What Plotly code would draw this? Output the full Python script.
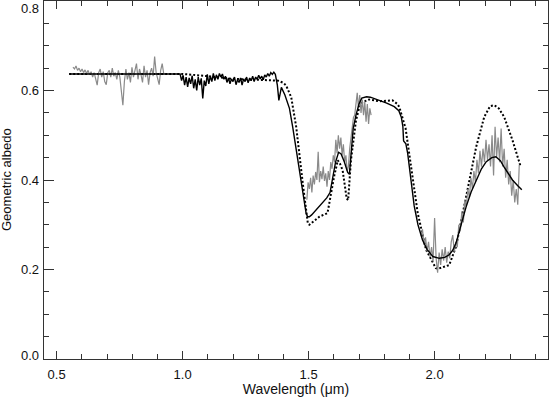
import plotly.graph_objects as go

# ---------------- data ----------------
# Observed spectrum (gray), three wavelength segments
obs1_start, obs1_step = 0.565, 0.006
obs1_albedo = [0.652, 0.648, 0.655, 0.645, 0.650, 0.642, 0.648, 0.640, 0.646, 0.638,
               0.645, 0.635, 0.642, 0.630, 0.640, 0.625, 0.612, 0.640, 0.648, 0.630,
               0.642, 0.620, 0.613, 0.640, 0.645, 0.630, 0.650, 0.632, 0.640, 0.625,
               0.645, 0.630, 0.595, 0.567, 0.620, 0.648, 0.625, 0.640, 0.618, 0.652,
               0.630, 0.645, 0.660, 0.625, 0.648, 0.635, 0.618, 0.655, 0.630, 0.645,
               0.613, 0.640, 0.650, 0.632, 0.676, 0.640, 0.625, 0.613, 0.645, 0.660,
               0.638]

obs2_start, obs2_step = 1.493, 0.005
obs2_albedo = [0.356, 0.395, 0.380, 0.405, 0.372, 0.410, 0.390, 0.418, 0.400, 0.463,
               0.395, 0.420, 0.402, 0.430, 0.398, 0.415, 0.385, 0.420, 0.400, 0.440,
               0.425, 0.455, 0.440, 0.490, 0.460, 0.500, 0.470, 0.495, 0.455, 0.480,
               0.440, 0.455, 0.420, 0.430, 0.470, 0.495, 0.515, 0.540, 0.545, 0.565,
               0.595, 0.560, 0.590, 0.550, 0.580, 0.545, 0.575, 0.530, 0.570, 0.525,
               0.560, 0.545]

obs3_start, obs3_step = 1.946, 0.006
obs3_albedo = [0.275, 0.290, 0.255, 0.272, 0.240, 0.262, 0.228, 0.250, 0.218, 0.315,
               0.225, 0.193, 0.238, 0.210, 0.245, 0.220, 0.250, 0.215, 0.240, 0.225,
               0.262, 0.277, 0.240, 0.262, 0.250, 0.300, 0.285, 0.330, 0.305, 0.355,
               0.340, 0.380, 0.360, 0.405, 0.380, 0.420, 0.395, 0.445, 0.415, 0.465,
               0.430, 0.470, 0.440, 0.490, 0.445, 0.480, 0.430, 0.500, 0.410, 0.519,
               0.450, 0.495, 0.440, 0.515, 0.430, 0.470, 0.405, 0.445, 0.390, 0.420,
               0.365, 0.400, 0.350, 0.380, 0.345, 0.434]

# High-resolution part of the solid model (black, jagged)
hires_start, hires_step = 0.990, 0.006
hires_albedo = [0.637, 0.622, 0.634, 0.612, 0.630, 0.608, 0.628, 0.615, 0.633, 0.605,
                0.625, 0.600, 0.630, 0.612, 0.627, 0.582, 0.622, 0.610, 0.636, 0.615,
                0.632, 0.620, 0.638, 0.622, 0.635, 0.625, 0.638, 0.630, 0.637, 0.625,
                0.632, 0.618, 0.628, 0.615, 0.626, 0.620, 0.630, 0.613, 0.624, 0.618,
                0.628, 0.612, 0.626, 0.620, 0.630, 0.617, 0.628, 0.622, 0.632, 0.620,
                0.630, 0.625, 0.634, 0.626, 0.632, 0.624, 0.635, 0.630, 0.638, 0.632,
                0.640, 0.636, 0.641, 0.636]

# Solid model (smooth parts)
solid_wl_a = [0.550, 0.990]
solid_alb_a = [0.637, 0.637]
solid_wl_b = [1.376, 1.382, 1.392, 1.406, 1.424, 1.437, 1.451, 1.464, 1.477, 1.490,
              1.496, 1.503, 1.512, 1.527, 1.552, 1.572, 1.585, 1.597, 1.607, 1.619,
              1.629, 1.642, 1.655, 1.662, 1.669, 1.677, 1.688, 1.700, 1.711, 1.730,
              1.745, 1.770, 1.810, 1.840, 1.858, 1.868, 1.874, 1.877, 1.886, 1.893,
              1.900, 1.909, 1.919, 1.934, 1.952, 1.970, 1.993, 2.019, 2.040, 2.058,
              2.072, 2.085, 2.105, 2.125, 2.145, 2.165, 2.186, 2.205, 2.227, 2.243,
              2.261, 2.276, 2.294, 2.309, 2.330, 2.346]
solid_alb_b = [0.612, 0.578, 0.607, 0.590, 0.560, 0.518, 0.470, 0.422, 0.375, 0.326,
               0.318, 0.318, 0.322, 0.331, 0.347, 0.360, 0.372, 0.410, 0.440, 0.462,
               0.458, 0.440, 0.417, 0.413, 0.460, 0.515, 0.545, 0.570, 0.583, 0.586,
               0.585, 0.580, 0.572, 0.564, 0.555, 0.540, 0.520, 0.487, 0.481, 0.460,
               0.429, 0.390, 0.342, 0.300, 0.266, 0.245, 0.229, 0.225, 0.227, 0.233,
               0.243, 0.259, 0.300, 0.340, 0.373, 0.400, 0.425, 0.441, 0.450, 0.452,
               0.443, 0.429, 0.413, 0.400, 0.387, 0.378]

# Dotted model
dot_wl = [0.550, 1.000, 1.100, 1.200, 1.300, 1.379, 1.400, 1.411, 1.431, 1.451,
          1.477, 1.497, 1.503, 1.520, 1.543, 1.575, 1.589, 1.602, 1.616, 1.624,
          1.635, 1.651, 1.657, 1.668, 1.688, 1.700, 1.714, 1.740, 1.780, 1.810,
          1.833, 1.852, 1.860, 1.885, 1.907, 1.933, 1.966, 2.005, 2.016, 2.058,
          2.085, 2.111, 2.137, 2.165, 2.197, 2.220, 2.237, 2.255, 2.276, 2.309,
          2.342]
dot_alb = [0.637, 0.637, 0.632, 0.626, 0.624, 0.622, 0.617, 0.611, 0.585, 0.518,
           0.392, 0.303, 0.300, 0.308, 0.318, 0.326, 0.370, 0.410, 0.444, 0.437,
           0.422, 0.359, 0.355, 0.444, 0.533, 0.560, 0.574, 0.580, 0.576, 0.577,
           0.578, 0.570, 0.563, 0.515, 0.429, 0.326, 0.244, 0.203, 0.202, 0.210,
           0.251, 0.326, 0.400, 0.474, 0.541, 0.565, 0.567, 0.560, 0.541, 0.489,
           0.429]

x_tick_vals = [0.5, 1.0, 1.5, 2.0]
x_tick_text = ["0.5", "1.0", "1.5", "2.0"]
y_tick_vals = [0.0, 0.2, 0.4, 0.6, 0.8]
y_tick_text = ["0.0", "0.2", "0.4", "0.6", "0.8"]


def grid(start, step, n):
    return [round(start + step * i, 4) for i in range(n)]


obs_x = (grid(obs1_start, obs1_step, len(obs1_albedo)) + [None]
         + grid(obs2_start, obs2_step, len(obs2_albedo)) + [None]
         + grid(obs3_start, obs3_step, len(obs3_albedo)))
obs_y = obs1_albedo + [None] + obs2_albedo + [None] + obs3_albedo

solid_x = solid_wl_a + grid(hires_start, hires_step, len(hires_albedo)) + solid_wl_b
solid_y = solid_alb_a + hires_albedo + solid_alb_b

fig = go.Figure()
fig.add_trace(go.Scatter(x=dot_wl, y=dot_alb, mode="lines",
                         line=dict(color="black", width=2, dash="2px,2px"),
                         hoverinfo="skip"))
fig.add_trace(go.Scatter(x=obs_x, y=obs_y, mode="lines", connectgaps=False,
                         line=dict(color="#8a8a8a", width=1.2), hoverinfo="skip"))
fig.add_trace(go.Scatter(x=solid_x, y=solid_y, mode="lines",
                         line=dict(color="black", width=1.4), hoverinfo="skip"))

# y tick labels drawn as annotations (end labels nudged inside the frame as in the source)
label_shift = {0.0: 3.5, 0.8: -7.5}
for v, t in zip(y_tick_vals, y_tick_text):
    fig.add_annotation(x=0, xref="paper", y=v, yref="y", text=t, showarrow=False,
                       xanchor="right", yanchor="middle", xshift=-4,
                       yshift=label_shift.get(v, 0), borderpad=0,
                       font=dict(size=13, color="#111111",
                                 family="Liberation Sans, Arial, sans-serif"))

axis_common = dict(showline=True, linecolor="#333333", linewidth=1, mirror="allticks",
                   ticks="inside", tickcolor="#333333", showgrid=False, zeroline=False,
                   tickfont=dict(size=13, color="#111111"))

fig.update_layout(
    width=549, height=397,
    margin=dict(l=44, r=1, t=1, b=38),
    paper_bgcolor="white", plot_bgcolor="white",
    showlegend=False,
    font=dict(family="Liberation Sans, Arial, sans-serif", color="#111111"),
    xaxis=dict(range=[0.45, 2.45], tickmode="array", tickvals=x_tick_vals,
               ticktext=x_tick_text, ticklen=8, ticklabelstandoff=3,
               minor=dict(dtick=0.1, tick0=0.5, ticks="inside", ticklen=5,
                          tickcolor="#333333", showgrid=False),
               title=dict(text="Wavelength (μm)", font=dict(size=14), standoff=3),
               **axis_common),
    yaxis=dict(range=[0.0, 0.8], tickmode="array", tickvals=y_tick_vals,
               ticktext=["" for _ in y_tick_text], ticklen=10,
               minor=dict(dtick=0.05, tick0=0.0, ticks="inside", ticklen=5,
                          tickcolor="#333333", showgrid=False),
               **axis_common),
)
fig.add_annotation(x=0, xref="paper", xshift=-38, y=0.5, yref="paper",
                   text="Geometric albedo", showarrow=False, textangle=-90,
                   xanchor="center", yanchor="middle",
                   font=dict(size=13, color="#111111"))

fig.write_html("out.html", config={"displayModeBar": False},
               post_script="document.body.style.margin='0';document.body.style.padding='0';")
